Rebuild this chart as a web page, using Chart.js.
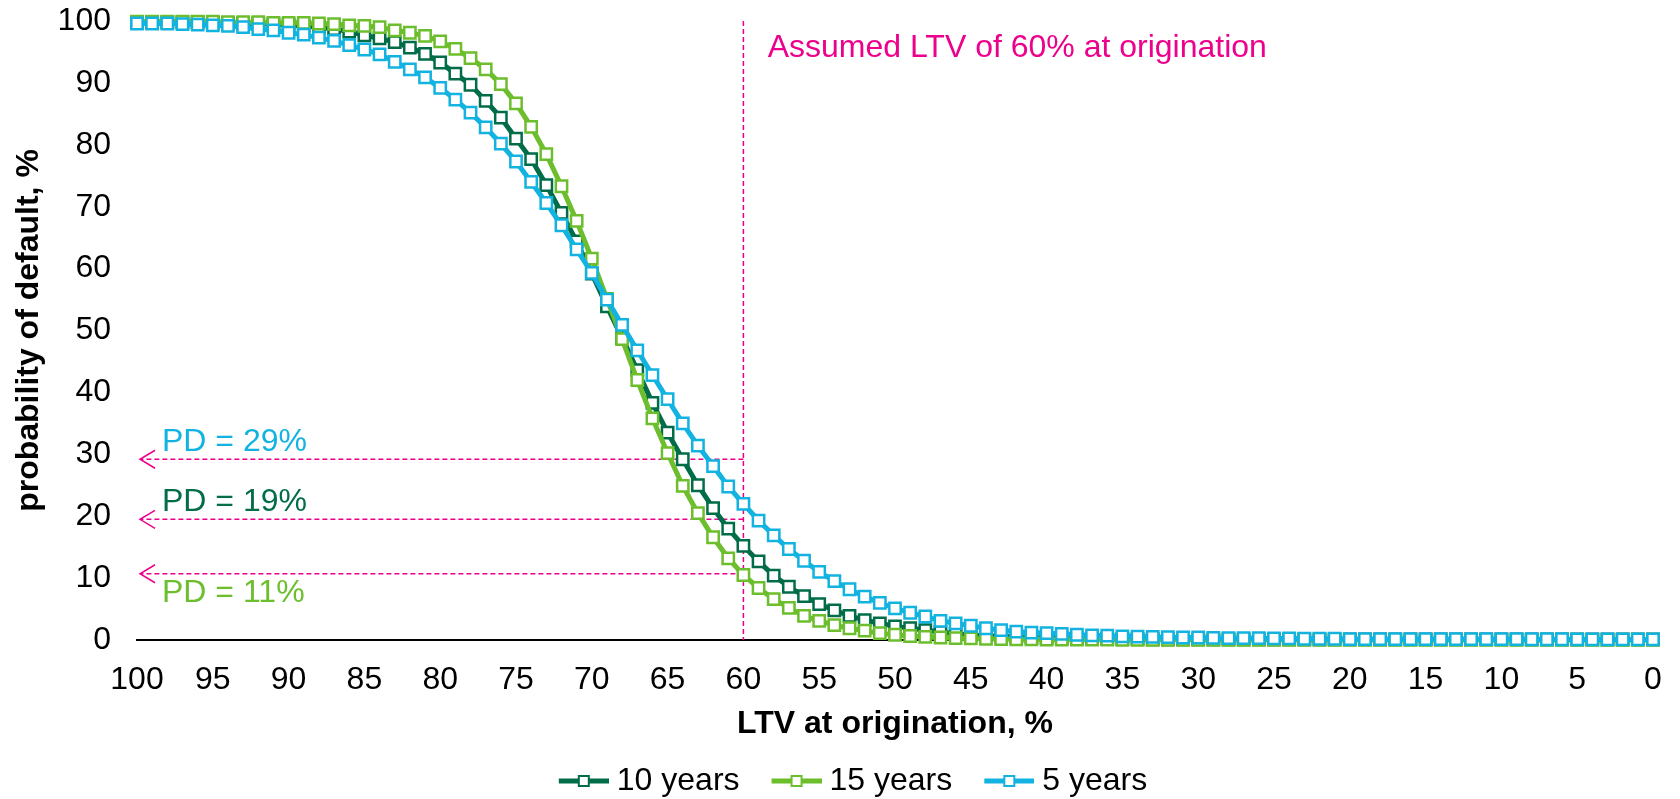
<!DOCTYPE html>
<html>
<head>
<meta charset="utf-8">
<title>PD by LTV at origination</title>
<script src="https://cdn.jsdelivr.net/npm/chart.js@4.4.1/dist/chart.umd.min.js"></script>
<style>
  html, body { margin: 0; padding: 0; background: #fff; }
  #wrap { width: 1680px; height: 799px; }
</style>
</head>
<body>
<div id="wrap"><canvas id="chart" width="1680" height="799"></canvas></div>
<script>
// LTV at origination, % (x axis runs from 100 down to 0)
const ltv = [
  100, 99, 98, 97, 96, 95, 94, 93, 92, 91,
  90, 89, 88, 87, 86, 85, 84, 83, 82, 81,
  80, 79, 78, 77, 76, 75, 74, 73, 72, 71,
  70, 69, 68, 67, 66, 65, 64, 63, 62, 61,
  60, 59, 58, 57, 56, 55, 54, 53, 52, 51,
  50, 49, 48, 47, 46, 45, 44, 43, 42, 41,
  40, 39, 38, 37, 36, 35, 34, 33, 32, 31,
  30, 29, 28, 27, 26, 25, 24, 23, 22, 21,
  20, 19, 18, 17, 16, 15, 14, 13, 12, 11,
  10, 9, 8, 7, 6, 5, 4, 3, 2, 1, 0
];

// probability of default, %
const pd10 = [
  99.8, 99.8, 99.8, 99.8, 99.8, 99.7, 99.7, 99.6, 99.6, 99.5,
  99.4, 99.2, 99.0, 98.7, 98.3, 97.7, 97.2, 96.6, 95.7, 94.7,
  93.3, 91.5, 89.7, 87.1, 84.4, 81.0, 77.7, 73.5, 69.0, 64.4,
  59.2, 53.9, 48.8, 43.6, 38.3, 33.5, 29.2, 25.0, 21.3, 18.0,
  15.2, 12.7, 10.4, 8.6, 7.1, 5.8, 4.8, 3.9, 3.2, 2.7,
  2.2, 1.9, 1.6, 1.3, 1.0, 0.8, 0.7, 0.6, 0.5, 0.4,
  0.35, 0.3, 0.25, 0.2, 0.2, 0.15, 0.15, 0.12, 0.1, 0.1,
  0.1, 0.1, 0.1, 0.1, 0.1, 0.1, 0.1, 0.1, 0.1, 0.1,
  0.1, 0.1, 0.1, 0.1, 0.1, 0.1, 0.1, 0.1, 0.1, 0.1,
  0.1, 0.1, 0.1, 0.1, 0.1, 0.1, 0.1, 0.1, 0.1, 0.1, 0.1
];
const pd15 = [
  99.9, 99.9, 99.9, 99.9, 99.9, 99.9, 99.8, 99.8, 99.8, 99.7,
  99.7, 99.7, 99.6, 99.5, 99.3, 99.2, 99.0, 98.5, 98.1, 97.6,
  96.7, 95.5, 94.0, 92.2, 89.8, 86.7, 82.9, 78.5, 73.3, 67.7,
  61.6, 55.1, 48.6, 42.0, 35.8, 30.2, 24.9, 20.5, 16.6, 13.2,
  10.5, 8.4, 6.6, 5.2, 3.9, 3.1, 2.4, 1.9, 1.5, 1.1,
  0.85, 0.65, 0.5, 0.4, 0.3, 0.25, 0.2, 0.15, 0.12, 0.1,
  0.08, 0.07, 0.06, 0.05, 0.05, 0.04, 0.04, 0.03, 0.03, 0.03,
  0.02, 0.02, 0.02, 0.02, 0.02, 0.02, 0.02, 0.02, 0.02, 0.02,
  0.02, 0.02, 0.02, 0.02, 0.02, 0.02, 0.02, 0.02, 0.02, 0.02,
  0.01, 0.01, 0.01, 0.01, 0.01, 0.01, 0.01, 0.01, 0.01, 0.01, 0.01
];
const pd5 = [
  99.6, 99.6, 99.6, 99.5, 99.4, 99.3, 99.2, 99.0, 98.7, 98.5,
  98.1, 97.8, 97.3, 96.8, 96.1, 95.4, 94.6, 93.4, 92.2, 90.9,
  89.2, 87.3, 85.2, 82.8, 80.2, 77.3, 74.0, 70.6, 67.0, 63.1,
  59.3, 55.0, 50.9, 46.8, 42.8, 38.9, 35.0, 31.4, 28.1, 24.8,
  22.0, 19.3, 16.9, 14.7, 12.8, 11.0, 9.5, 8.2, 7.0, 6.0,
  5.1, 4.4, 3.8, 3.1, 2.7, 2.3, 1.9, 1.6, 1.35, 1.2,
  1.1, 1.0, 0.85, 0.75, 0.7, 0.6, 0.55, 0.5, 0.45, 0.4,
  0.4, 0.35, 0.3, 0.3, 0.3, 0.25, 0.25, 0.2, 0.2, 0.2,
  0.15, 0.15, 0.15, 0.15, 0.15, 0.15, 0.15, 0.15, 0.15, 0.15,
  0.15, 0.15, 0.12, 0.12, 0.12, 0.1, 0.1, 0.1, 0.1, 0.1, 0.1
];

const seriesNames = ['10 years', '15 years', '5 years'];
const seriesColors = ['#006D48', '#6CBE2D', '#12B3E0'];

// annotation: assumed LTV and the PD read-offs
const refLtv = 60;
const refLabel = 'Assumed LTV of 60% at origination';
const pdMarks = [29.2, 19.5, 10.7];
const pdLabels = ['PD = 29%', 'PD = 19%', 'PD = 11%'];
const pdLabelY = [32.0, 22.3, 7.5];
const pdLabelColors = ['#12B3E0', '#006D48', '#6CBE2D'];
const magenta = '#EC008C';

const FONT = "'Liberation Sans', Arial, sans-serif";
Chart.defaults.font.family = FONT;
Chart.defaults.color = '#000';

// legend symbol: short line with a hollow square, like the Excel legend
// (left part of the canvas is left empty to space the items out)
function legendIcon(color) {
    const c = document.createElement('canvas');
    c.width = 80;
    c.height = 14;
    const g = c.getContext('2d');
    g.strokeStyle = color;
    g.lineWidth = 5;
    g.beginPath();
    g.moveTo(30, 7);
    g.lineTo(80, 7);
    g.stroke();
    g.lineWidth = 2;
    g.fillStyle = '#fff';
    g.fillRect(50, 2, 10, 10);
    g.strokeRect(50, 2, 10, 10);
    return c;
}
const icons = seriesColors.map(legendIcon);

const annotations = {
    id: 'ltvAnnotations',
    beforeDatasetsDraw(chart) {
        const { ctx, scales: { x, y } } = chart;
        const vx = x.getPixelForValue(refLtv);
        ctx.save();
        ctx.strokeStyle = magenta;
        ctx.lineWidth = 1.5;

        // vertical line at the assumed LTV
        ctx.setLineDash([5, 3]);
        ctx.beginPath();
        ctx.moveTo(vx, y.getPixelForValue(100));
        ctx.lineTo(vx, y.getPixelForValue(0));
        ctx.stroke();

        // horizontal arrows back to the y axis
        const ax = x.getPixelForValue(99.8);
        pdMarks.forEach(v => {
            const py = y.getPixelForValue(v);
            ctx.setLineDash([5, 3]);
            ctx.beginPath();
            ctx.moveTo(vx, py);
            ctx.lineTo(ax, py);
            ctx.stroke();
            ctx.setLineDash([]);
            ctx.beginPath();
            ctx.moveTo(ax + 15, py - 9);
            ctx.lineTo(ax, py);
            ctx.lineTo(ax + 15, py + 9);
            ctx.stroke();
        });

        ctx.font = '32px ' + FONT;
        ctx.textAlign = 'left';
        ctx.textBaseline = 'middle';
        ctx.fillStyle = magenta;
        ctx.fillText(refLabel, x.getPixelForValue(58.4), y.getPixelForValue(95.6));

        pdLabels.forEach((t, i) => {
            ctx.fillStyle = pdLabelColors[i];
            ctx.fillText(t, x.getPixelForValue(98.35), y.getPixelForValue(pdLabelY[i]));
        });
        ctx.restore();
    }
};

function makeDataset(i, values) {
    const color = seriesColors[i];
    return {
        label: seriesNames[i],
        data: ltv.map((v, k) => ({ x: v, y: values[k] })),
        borderColor: color,
        backgroundColor: '#fff',
        borderWidth: 5,
        pointStyle: 'rect',
        pointRadius: 8,
        pointBorderWidth: 2.5,
        pointBorderColor: color,
        pointBackgroundColor: '#fff',
        tension: 0,
        clip: false,
        // Excel draws later series on top
        order: 3 - i
    };
}

const ctx = document.getElementById('chart').getContext('2d');
new Chart(ctx, {
    type: 'line',
    data: {
        datasets: [
            makeDataset(0, pd10),
            makeDataset(1, pd15),
            makeDataset(2, pd5)
        ]
    },
    options: {
        responsive: false,
        animation: false,
        devicePixelRatio: 1,
        layout: {
            padding: { top: 21, right: 27, bottom: -8, left: 31 }
        },
        plugins: {
            tooltip: { enabled: false },
            legend: {
                display: true,
                position: 'bottom',
                labels: {
                    usePointStyle: true,
                    pointStyleWidth: 64,
                    padding: 10,
                    color: '#000',
                    font: { size: 32 },
                    generateLabels(chart) {
                        const items = Chart.defaults.plugins.legend.labels.generateLabels(chart);
                        items.forEach(it => { it.pointStyle = icons[it.datasetIndex]; });
                        return items;
                    },
                    sort: (a, b) => a.datasetIndex - b.datasetIndex
                }
            }
        },
        scales: {
            x: {
                type: 'linear',
                reverse: true,
                min: 0,
                max: 100,
                // hidden tick marks only reserve the gap under the axis
                grid: { display: false, drawTicks: true, tickLength: 21 },
                border: { display: true, color: '#000', width: 2 },
                ticks: {
                    stepSize: 5,
                    padding: 0,
                    color: '#000',
                    font: { size: 32 },
                    maxRotation: 0
                },
                title: {
                    display: true,
                    text: 'LTV at origination, %',
                    color: '#000',
                    font: { size: 32, weight: 'bold' },
                    padding: { top: 0, bottom: 12 }
                },
                afterFit(scale) { scale.height = 115; }
            },
            y: {
                min: 0,
                max: 100,
                grid: { display: false, drawTicks: true, tickLength: 26 },
                border: { display: false },
                ticks: {
                    stepSize: 10,
                    padding: 0,
                    color: '#000',
                    font: { size: 32 }
                },
                title: {
                    display: true,
                    text: 'probability of default, %',
                    color: '#000',
                    font: { size: 32, weight: 'bold' },
                    padding: { top: -21, bottom: 0 }
                },
                afterFit(scale) { scale.width = 106; }
            }
        }
    },
    plugins: [annotations]
});
</script>
</body>
</html>
